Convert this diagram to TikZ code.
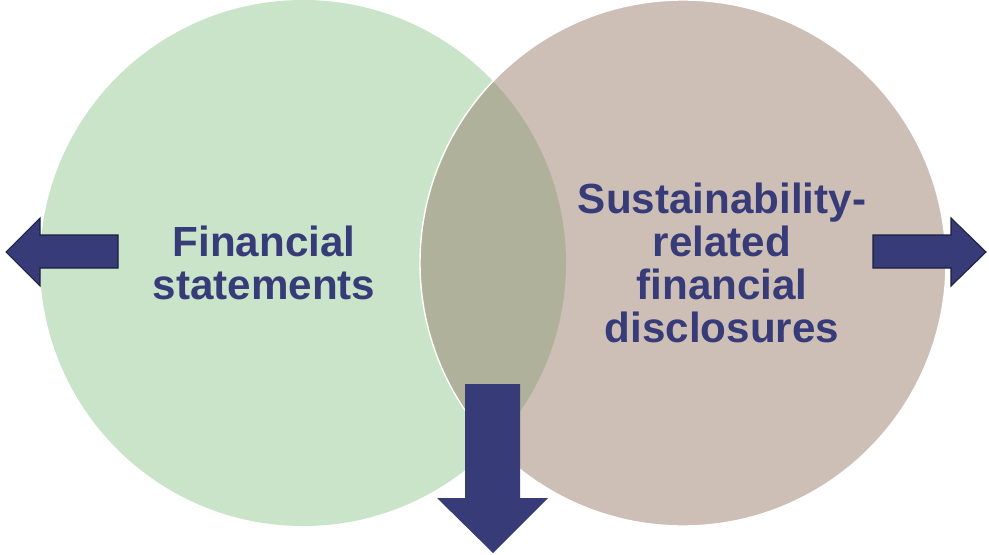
\documentclass[tikz,border=0pt]{standalone}
\usepackage{fontspec}
\setmainfont{Liberation Sans}
\definecolor{fingreen}{HTML}{C9E4C8}
\definecolor{susbrown}{HTML}{CDBFB6}
\definecolor{overlap}{HTML}{B0B19B}
\definecolor{navy}{HTML}{373C78}
\definecolor{navyedge}{HTML}{1C1E3C}

\begin{document}
\begin{tikzpicture}[
    x=0.02cm, y=-0.02cm,
    every node/.style={font=\bfseries\fontsize{24}{24.6}\selectfont, text=navy},
    label text/.style={align=center, inner sep=0},
    block arrow/.style={fill=navy, draw=navyedge, line width=0.6pt, line join=miter},
    down arrow/.style={fill=navy, draw=none}
]
\useasboundingbox (0,0) rectangle (989,554);

% the two sets
\fill [fingreen] (303,263) circle (263);
\fill [susbrown] (683,263) circle (263);
\begin{scope}
  \clip (303,263) circle (263);
  \fill [overlap] (683,263) circle (263);
\end{scope}
\draw [white, line width=0.8pt] (683,263) circle (263);

\node [label text] (fin) at (264,263) {Financial\\statements};
\node [label text] (sus) at (722,263) {Sustainability-\\related\\financial\\disclosures};

% outward arrows
\filldraw [block arrow] (118,235) -- (40,235) -- (40,218) -- (6,252)
    -- (40,286) -- (40,268) -- (118,268) -- cycle;
\filldraw [block arrow] (873,235) -- (951,235) -- (951,218) -- (986,252)
    -- (951,286) -- (951,268) -- (873,268) -- cycle;
\fill [down arrow] (465,384) -- (520,384) -- (520,498) -- (548,498)
    -- (493,553) -- (437,498) -- (465,498) -- cycle;

\end{tikzpicture}
\end{document}
